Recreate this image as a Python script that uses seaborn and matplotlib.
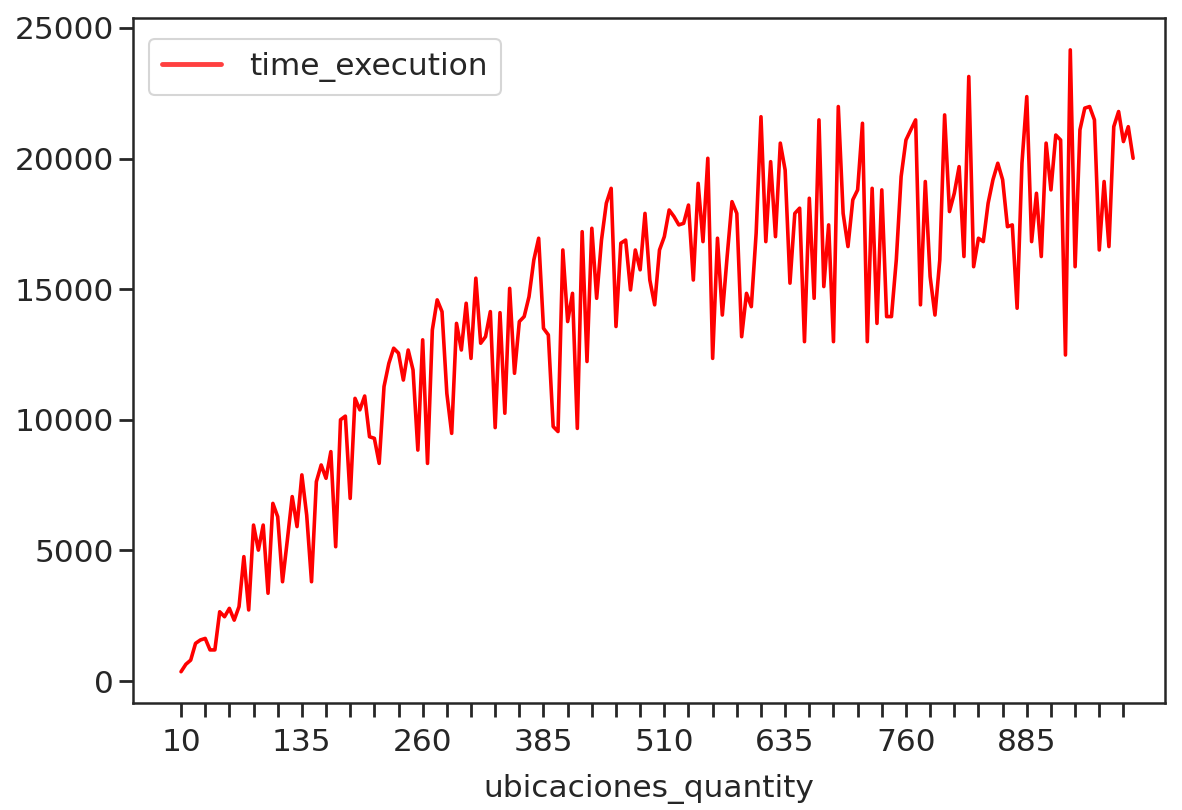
import numpy as np
import pandas as pd
import matplotlib
matplotlib.use("Agg")
import matplotlib.pyplot as plt
import seaborn as sns

sns.set_style("ticks")

# ubicaciones_quantity: 10, 15, ..., 995
ubicaciones_quantity = list(range(10, 1000, 5))

time_execution = [
    356, 640, 800, 1440, 1570, 1630, 1190, 1190, 2650, 2460,
    2780, 2330, 2850, 4760, 2720, 5970, 5010, 5970, 3360, 6800,
    6290, 3800, 5400, 7060, 5910, 7890, 6350, 3800, 7630, 8270,
    7760, 8780, 5140, 10000, 10140, 6990, 10820, 10380, 10910, 9350,
    9290, 8330, 11270, 12160, 12740, 12550, 11520, 12670, 11910, 8840,
    13060, 8330, 13440, 14590, 14140, 11010, 9480, 13690, 12670, 14460,
    12350, 15420, 12930, 13180, 14140, 9700, 14100, 10250, 15030, 11780,
    13760, 13950, 14710, 16120, 16950, 13500, 13250, 9740, 9550, 16500,
    13760, 14840, 9670, 17200, 12230, 17330, 14650, 16880, 18290, 18860,
    13570, 16760, 16880, 14970, 16500, 15740, 17900, 15350, 14400, 16500,
    17010, 18030, 17780, 17460, 17520, 18220, 15350, 19050, 16820, 20010,
    12350, 16950, 14010, 16250, 18350, 17900, 13180, 14840, 14330, 17140,
    21600, 16820, 19880, 17010, 20590, 19560, 15230, 17900, 18100, 12990,
    18480, 14650, 21480, 15100, 17460, 12990, 21990, 17900, 16630, 18420,
    18800, 21350, 12990, 18860, 13690, 18800, 13950, 13950, 16120, 19310,
    20710, 21100, 21480, 14400, 19120, 15480, 14010, 16120, 21670, 17970,
    18670, 19690, 16250, 23140, 15860, 16950, 16820, 18290, 19190, 19820,
    19190, 17390, 17460, 14270, 19820, 22370, 16820, 18670, 16250, 20590,
    18800, 20900, 20710, 12480, 24160, 15860, 21100, 21930, 21990, 21480,
    16500, 19120, 16630, 21220, 21800, 20650, 21220, 20010,
]

minor_ticks = list(range(10, 986, 25))
major_ticks = list(range(10, 986, 125))

df = pd.DataFrame({"ubicaciones_quantity": ubicaciones_quantity,
                   "time_execution": time_execution})

fig = plt.figure(figsize=(11.82, 8.10), dpi=100)
ax = fig.add_axes([133 / 1182, 1 - 703 / 810, (1165 - 133) / 1182, (703 - 18) / 810])

sns.lineplot(data=df, x="ubicaciones_quantity", y="time_execution",
             color="red", linewidth=2.6, label="time_execution", ax=ax)

ax.set_xticks(minor_ticks)
ax.set_xticklabels([str(t) if t in major_ticks else "" for t in minor_ticks])
ax.set_yticks([0, 5000, 10000, 15000, 20000, 25000])
ax.set_xlim(-39.7, 1028)
ax.set_ylim(-842, 25380)

ax.tick_params(axis="both", labelsize=22.5, length=10, width=2, color="#262626",
               labelcolor="#262626")
ax.tick_params(axis="x", pad=8)
for s in ax.spines.values():
    s.set_linewidth(1.8)
    s.set_color("#262626")

ax.set_xlabel("ubicaciones_quantity", fontsize=22.5, color="#262626", labelpad=12)
ax.set_ylabel("")

leg = ax.legend(loc="upper left", fontsize=22.5, frameon=True, handlelength=1.9,
                borderpad=0.42, handletextpad=0.9,
                bbox_to_anchor=(0.0, 0.992))
leg.get_frame().set_edgecolor("#cccccc")
leg.get_frame().set_linewidth(1.5)
for h in leg.get_lines():
    h.set_linewidth(3.5)
    h.set_alpha(0.75)

fig.savefig("out.png", dpi=100)
